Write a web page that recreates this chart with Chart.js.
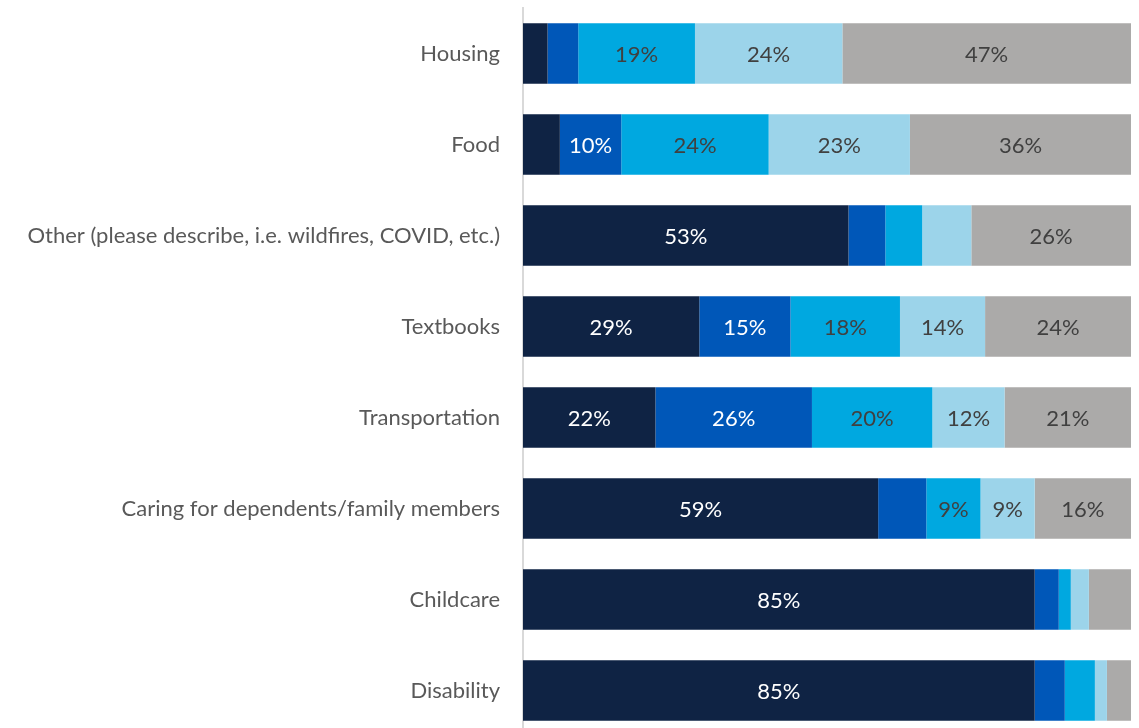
<!DOCTYPE html>
<html>
<head>
<meta charset="utf-8">
<script src="https://cdn.jsdelivr.net/npm/chart.js@4"></script>
<style>
html,body{margin:0;padding:0;background:#fff;overflow:hidden;}
#wrap{position:relative;width:1139px;height:736px;}
canvas{display:block;}
</style>
</head>
<body>
<div id="wrap"><canvas id="c" width="1139" height="736" style="width:1139px;height:736px"></canvas></div>
<script>
const categories = ["Housing","Food","Other (please describe, i.e. wildfires, COVID, etc.)","Textbooks","Transportation","Caring for dependents/family members","Childcare","Disability"];
const seriesNames = ["Series 1","Series 2","Series 3","Series 4","Series 5"];
const series1 = [4, 6, 53, 29, 22, 59, 85, 85];
const series2 = [5, 10, 6, 15, 26, 8, 4, 5];
const series3 = [19, 24, 6, 18, 20, 9, 2, 5];
const series4 = [24, 23, 8, 14, 12, 9, 3, 2];
const series5 = [47, 36, 26, 24, 21, 16, 7, 4];
const colors = ["#0f2344","#0057b8","#00a8e0","#9cd4ea","#abaaa9"];
const labelColors = ["#ffffff","#ffffff","#404040","#404040","#404040"];
const labelMin = 9;

const raw = [series1, series2, series3, series4, series5];
const totals = categories.map((_, i) => raw.reduce((s, arr) => s + arr[i], 0));

const datasets = raw.map((arr, k) => ({
  label: seriesNames[k],
  data: arr.map((v, i) => v / totals[i] * 100),
  rawValues: arr,
  backgroundColor: colors[k],
  borderWidth: 0,
  barPercentage: 0.665,
  categoryPercentage: 1.0
}));

const labelPlugin = {
  id: 'segLabels',
  afterDatasetsDraw(chart) {
    const ctx = chart.ctx;
    ctx.save();
    ctx.font = '22px Lato, "Open Sans", sans-serif';
    ctx.textAlign = 'center';
    ctx.textBaseline = 'middle';
    chart.data.datasets.forEach((ds, k) => {
      const meta = chart.getDatasetMeta(k);
      meta.data.forEach((bar, i) => {
        const v = ds.rawValues[i];
        if (v < labelMin) return;
        const cx = (bar.x + bar.base) / 2;
        ctx.fillStyle = labelColors[k];
        ctx.fillText(v + '%', cx, bar.y + 1);
      });
    });
    ctx.restore();
  }
};

new Chart(document.getElementById('c'), {
  type: 'bar',
  data: { labels: categories, datasets },
  options: {
    indexAxis: 'y',
    responsive: false,
    maintainAspectRatio: false,
    animation: false,
    layout: { padding: { top: 8, right: 8, bottom: 0, left: 0 } },
    plugins: { legend: { display: false }, tooltip: { enabled: false } },
    scales: {
      x: {
        stacked: true, min: 0, max: 100, display: false,
        grid: { display: false }
      },
      y: {
        stacked: true,
        grid: { display: false, drawTicks: false },
        border: { display: true, color: '#d9d9d9', width: 2 },
        ticks: {
          color: '#595959',
          padding: 23,
          font: { family: 'Lato, "Open Sans", sans-serif', size: 22 }
        },
        afterFit(scale) { scale.width = 523; scale.paddingTop = 0; scale.paddingBottom = 0; }
      }
    }
  },
  plugins: [labelPlugin]
});
</script>
</body>
</html>
